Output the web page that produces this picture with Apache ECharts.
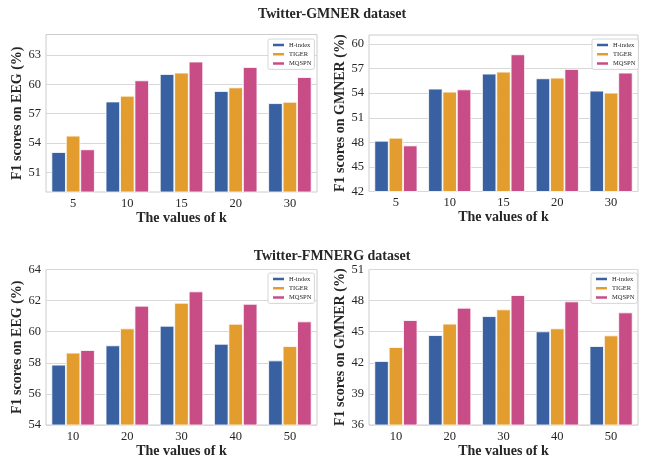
<!DOCTYPE html>
<html><head><meta charset="utf-8">
<script src="https://cdn.jsdelivr.net/npm/echarts@6/dist/echarts.min.js"></script>
<style>html,body{margin:0;padding:0;background:#fff}#c{width:646px;height:462px}</style>
</head><body><div id="c"></div>
<script>
const seriesNames = ['H-index', 'TIGER', 'MQSPN'];
const kGMNER = ['5', '10', '15', '20', '30'];
const kFMNERG = ['10', '20', '30', '40', '50'];
// Twitter-GMNER dataset, EEG
const gmnerEEG_H = [53.08, 58.25, 61.06, 59.32, 58.08];
const gmnerEEG_T = [54.76, 58.84, 61.20, 59.69, 58.22];
const gmnerEEG_M = [53.36, 60.41, 62.33, 61.78, 60.75];
// Twitter-GMNER dataset, GMNER
const gmnerGM_H = [48.19, 54.55, 56.38, 55.81, 54.30];
const gmnerGM_T = [48.56, 54.18, 56.62, 55.89, 54.06];
const gmnerGM_M = [47.62, 54.46, 58.74, 56.95, 56.50];
// Twitter-FMNERG dataset, EEG
const fmnergEEG_H = [57.88, 59.12, 60.38, 59.22, 58.15];
const fmnergEEG_T = [58.65, 60.21, 61.86, 60.51, 59.07];
const fmnergEEG_M = [58.82, 61.67, 62.59, 61.79, 60.66];
// Twitter-FMNERG dataset, GMNER
const fmnergGM_H = [42.17, 44.67, 46.50, 45.03, 43.61];
const fmnergGM_T = [43.52, 45.77, 47.15, 45.32, 44.64];
const fmnergGM_M = [46.12, 47.31, 48.53, 47.92, 46.86];
// tick labels
const ticksP1 = [51, 54, 57, 60, 63];
const ticksP2 = [42, 45, 48, 51, 54, 57, 60];
const ticksP3 = [54, 56, 58, 60, 62, 64];
const ticksP4 = [36, 39, 42, 45, 48, 51];
const titles = ['Twitter-GMNER dataset', 'Twitter-FMNERG dataset'];
const yNames = ['F1 scores on EEG (%)', 'F1 scores on GMNER (%)', 'F1 scores on EEG (%)', 'F1 scores on GMNER (%)'];
const xName = 'The values of k';

const colors = ['#3961a1', '#e39d2f', '#c84c86'];
const FONT = '"Liberation Serif", "DejaVu Serif", serif';
const TXT = '#262626';

const panels = [
  { cats: kGMNER, data: [gmnerEEG_H, gmnerEEG_T, gmnerEEG_M], ticks: ticksP1, min: 49, max: 65.1,
    grid: { left: 46, top: 34.5, width: 271, height: 157.5 }, legend: { left: 268, top: 39 } },
  { cats: kGMNER, data: [gmnerGM_H, gmnerGM_T, gmnerGM_M], ticks: ticksP2, min: 42, max: 61.1,
    grid: { left: 369, top: 35, width: 269, height: 156.5 }, legend: { left: 592, top: 39 } },
  { cats: kFMNERG, data: [fmnergEEG_H, fmnergEEG_T, fmnergEEG_M], ticks: ticksP3, min: 54, max: 64,
    grid: { left: 46, top: 269.5, width: 271, height: 155.5 }, legend: { left: 268, top: 273 } },
  { cats: kFMNERG, data: [fmnergGM_H, fmnergGM_T, fmnergGM_M], ticks: ticksP4, min: 36, max: 51,
    grid: { left: 369, top: 269.5, width: 269, height: 155.5 }, legend: { left: 591, top: 273 } }
];

const option = {
  animation: false,
  backgroundColor: '#fff',
  title: [
    { text: titles[0], left: 327, top: 2.5, textAlign: 'center',
      textStyle: { fontFamily: FONT, fontSize: 14, fontWeight: 'bold', color: TXT } },
    { text: titles[1], left: 327, top: 244, textAlign: 'center',
      textStyle: { fontFamily: FONT, fontSize: 14, fontWeight: 'bold', color: TXT } }
  ],
  grid: [], xAxis: [], yAxis: [], legend: [], series: []
};

panels.forEach((p, i) => {
  option.grid.push(Object.assign({ show: true, borderColor: '#cccccc', borderWidth: 1, backgroundColor: 'transparent' }, p.grid));
  option.xAxis.push({
    type: 'category', gridIndex: i, data: p.cats,
    axisLine: { show: false }, axisTick: { show: false },
    axisLabel: { fontFamily: FONT, fontSize: 12.5, color: TXT, margin: 5 },
    name: xName, nameLocation: 'middle', nameGap: 17,
    nameTextStyle: { fontFamily: FONT, fontSize: 14, fontWeight: 'bold', color: TXT }
  });
  option.yAxis.push({
    type: 'value', gridIndex: i, min: p.min, max: p.max,
    axisLine: { show: false },
    axisTick: { show: false, customValues: p.ticks },
    axisLabel: { fontFamily: FONT, fontSize: 12.5, color: TXT, margin: 5, customValues: p.ticks },
    splitLine: { show: true, lineStyle: { color: '#d8d8d8', width: 1.2 } },
    name: yNames[i], nameLocation: 'middle', nameGap: 19,
    nameTextStyle: { fontFamily: FONT, fontSize: 14, fontWeight: 'bold', color: TXT }
  });
  option.legend.push({
    orient: 'vertical', left: p.legend.left, top: p.legend.top,
    data: seriesNames.map((n, j) => ({ name: n, itemStyle: { color: colors[j] } })),
    icon: 'rect', itemWidth: 13, itemHeight: 4.5, itemGap: 2.2,
    padding: [2.5, 3, 2.5, 3],
    backgroundColor: '#fff', borderColor: '#cccccc', borderWidth: 0.8, borderRadius: 2,
    textStyle: { fontFamily: FONT, fontSize: 6.5, color: TXT, lineHeight: 7, padding: [0, 0, 0, -1] },
    selectedMode: false
  });
  seriesNames.forEach((n, j) => {
    option.series.push({
      type: 'bar', name: n, xAxisIndex: i, yAxisIndex: i, data: p.data[j],
      barGap: '0%', barCategoryGap: '20%',
      itemStyle: { color: colors[j], borderColor: '#ffffff', borderWidth: 0.8 }
    });
  });
});

const chart = echarts.init(document.getElementById('c'), null, { renderer: 'canvas' });
chart.setOption(option);
</script>
</body></html>
